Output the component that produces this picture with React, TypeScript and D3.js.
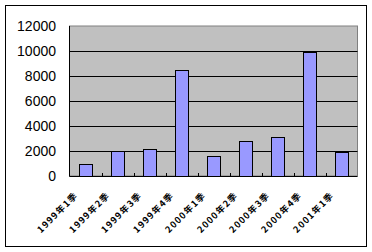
import React from "react";
import * as d3 from "d3";

const categories = [
  "1999年1季", "1999年2季", "1999年3季", "1999年4季",
  "2000年1季", "2000年2季", "2000年3季", "2000年4季", "2001年1季",
];
const values = [950, 2000, 2150, 8450, 1600, 2800, 3100, 9950, 1900];
const yTicks = [0, 2000, 4000, 6000, 8000, 10000, 12000];

export default function App() {
  const W = 372, H = 252;
  const left = 69.5, right = 357.5, top = 26, bottom = 176;
  const x = d3.scaleBand<string>().domain(categories).range([left, right]).paddingInner(0).paddingOuter(0);
  const y = d3.scaleLinear().domain([0, 12000]).range([bottom, top]);
  const bw = x.bandwidth() * 0.41;
  return (
    <svg width={W} height={H} style={{ position: "absolute", left: 0, top: 0 }}>
      <rect x={0} y={0} width={W} height={H} fill="#fff" />
      <rect x={5.5} y={5.5} width={361} height={241} fill="#fff" stroke="#000" strokeWidth={1} />
      <rect x={left} y={top} width={right - left} height={bottom - top} fill="#c0c0c0" stroke="#808080" strokeWidth={1} />
      {yTicks.filter(t => t > 0 && t < 12000).map(t => (
        <line key={t} x1={left} x2={right} y1={Math.round(y(t)) + 0.5} y2={Math.round(y(t)) + 0.5} stroke="#000" strokeWidth={1} />
      ))}
      {values.map((v, i) => {
        const cx = (x(categories[i]) as number) + x.bandwidth() / 2;
        return (
          <rect key={i} x={Math.round(cx - bw / 2) + 0.5} y={Math.round(y(v)) + 0.5} width={Math.round(bw)}
            height={Math.round(y(0)) - Math.round(y(v))} fill="#9999ff" stroke="#000" strokeWidth={1} />
        );
      })}
      <line x1={left} x2={right} y1={bottom + 0.5} y2={bottom + 0.5} stroke="#000" strokeWidth={1} />
      <line x1={left} x2={left} y1={top} y2={bottom + 0.5} stroke="#000" strokeWidth={1} />
      {categories.slice(1).map(c => (
        <line key={c} x1={Math.round(x(c) as number) + 0.5} x2={Math.round(x(c) as number) + 0.5} y1={bottom} y2={bottom - 3} stroke="#000" strokeWidth={1} />
      ))}
      {yTicks.map(t => (
        <text key={t} x={56} y={y(t) + 5} textAnchor="end" fontFamily="Liberation Sans" fontSize={14} fill="#000">{t}</text>
      ))}
      {categories.map(c => {
        const cx = (x(c) as number) + x.bandwidth() / 2;
        const ax = cx - 7, ay = 196;
        return (
          <text key={c} x={ax} y={ay} transform={`rotate(-45 ${ax} ${ay})`} textAnchor="end"
            fontFamily="Noto Sans CJK SC" fontSize={9} fontWeight="bold" letterSpacing={1.2} fill="#000">{c}</text>
        );
      })}
    </svg>
  );
}
